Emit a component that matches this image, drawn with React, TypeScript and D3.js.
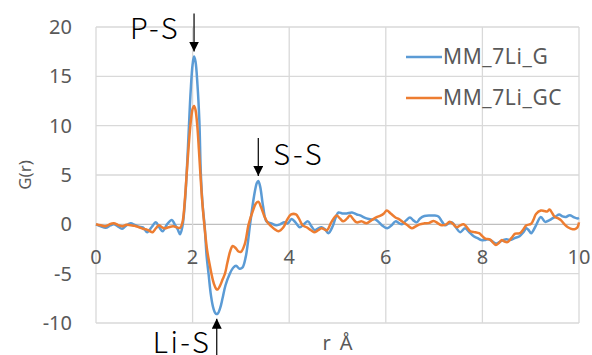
import * as d3 from "d3"

// MM_7Li_G (blue)
const rG = [0, 0.1, 0.2, 0.3, 0.37, 0.45, 0.54, 0.63, 0.72, 0.8, 0.89, 0.97, 1.06, 1.15, 1.24, 1.31, 1.38, 1.47, 1.57, 1.63, 1.69, 1.74, 1.79, 1.84, 1.88, 1.92, 1.96, 2.0, 2.03, 2.06, 2.1, 2.14, 2.17, 2.21, 2.25, 2.29, 2.33, 2.38, 2.43, 2.48, 2.52, 2.57, 2.62, 2.68, 2.77, 2.84, 2.9, 2.97, 3.03, 3.1, 3.19, 3.27, 3.33, 3.36, 3.4, 3.46, 3.53, 3.63, 3.73, 3.81, 3.9, 3.97, 4.05, 4.13, 4.22, 4.3, 4.39, 4.46, 4.53, 4.6, 4.67, 4.74, 4.81, 4.9, 4.97, 5.02, 5.1, 5.19, 5.3, 5.4, 5.47, 5.6, 5.7, 5.78, 5.86, 5.92, 6.03, 6.12, 6.2, 6.28, 6.33, 6.42, 6.5, 6.57, 6.64, 6.71, 6.8, 6.92, 7.0, 7.09, 7.16, 7.23, 7.3, 7.37, 7.45, 7.54, 7.64, 7.73, 7.82, 7.9, 7.98, 8.05, 8.12, 8.2, 8.28, 8.35, 8.43, 8.5, 8.57, 8.67, 8.77, 8.85, 8.91, 8.96, 9.01, 9.11, 9.21, 9.3, 9.38, 9.45, 9.52, 9.59, 9.66, 9.73, 9.79, 9.83, 9.9, 9.97, 10]
const gG = [0, -0.2, -0.35, -0.1, 0, -0.2, -0.45, -0.1, 0.1, -0.05, -0.25, -0.3, -0.8, -0.3, 0.2, -0.3, -0.7, 0, 0.45, 0, -0.5, -1.0, -0.2, 2.2, 5.4, 9.5, 13.5, 16.2, 17.0, 16.5, 14.2, 10.5, 5.2, 1.8, -0.2, -3.2, -5.0, -7.2, -8.5, -9.05, -9.05, -8.5, -7.5, -6.2, -5.0, -4.4, -4.2, -4.5, -4.4, -3.3, 0, 2.8, 4.2, 4.4, 3.8, 1.8, 0.3, 0.1, -0.1, 0, 0.2, 0.1, 0.55, 0.2, -0.3, 0, 0.3, -0.2, -0.6, -0.4, -0.3, -0.5, -0.9, -0.2, 0.8, 1.2, 1.1, 1.1, 1.2, 1.0, 0.9, 0.6, 0.5, 0.5, 0.2, -0.1, -0.4, -0.1, 0.3, 0.1, 0, 0.4, 0.7, 0.4, 0.2, 0.6, 0.85, 0.9, 0.9, 0.8, 0.3, -0.1, 0.1, 0.2, -0.3, -0.8, -0.4, -0.8, -1.2, -1.4, -1.6, -1.6, -1.5, -1.7, -1.95, -1.8, -1.6, -1.5, -1.6, -1.4, -1.2, -0.8, -0.4, -0.6, -0.9, -0.1, 0.75, 0.25, 0.4, 0.6, 0.8, 1.0, 0.8, 0.75, 0.9, 0.9, 0.7, 0.6, 0.65]

// MM_7Li_GC (orange)
const rGC = [0, 0.1, 0.2, 0.28, 0.37, 0.45, 0.54, 0.63, 0.72, 0.8, 0.89, 0.97, 1.03, 1.1, 1.17, 1.24, 1.3, 1.37, 1.43, 1.5, 1.6, 1.67, 1.74, 1.79, 1.84, 1.88, 1.92, 1.96, 2.0, 2.03, 2.06, 2.1, 2.13, 2.16, 2.2, 2.25, 2.3, 2.35, 2.39, 2.44, 2.49, 2.52, 2.57, 2.62, 2.67, 2.72, 2.78, 2.83, 2.89, 2.95, 3.0, 3.08, 3.16, 3.25, 3.31, 3.36, 3.42, 3.48, 3.55, 3.63, 3.7, 3.78, 3.88, 3.96, 4.04, 4.14, 4.2, 4.28, 4.36, 4.45, 4.53, 4.6, 4.67, 4.78, 4.87, 4.98, 5.05, 5.12, 5.2, 5.26, 5.33, 5.4, 5.5, 5.6, 5.7, 5.8, 5.9, 5.96, 6.02, 6.1, 6.2, 6.28, 6.36, 6.45, 6.54, 6.62, 6.7, 6.8, 6.9, 6.99, 7.08, 7.16, 7.25, 7.32, 7.4, 7.47, 7.54, 7.61, 7.68, 7.75, 7.85, 7.93, 8.0, 8.06, 8.16, 8.22, 8.28, 8.34, 8.4, 8.46, 8.52, 8.6, 8.68, 8.78, 8.85, 8.91, 9.01, 9.06, 9.11, 9.21, 9.28, 9.34, 9.39, 9.45, 9.5, 9.57, 9.63, 9.7, 9.77, 9.87, 9.93, 9.97, 10]
const gGC = [0, -0.1, -0.2, 0, 0.1, -0.05, -0.2, -0.05, -0.1, -0.15, -0.3, -0.45, -0.5, -0.65, -0.8, -0.4, -0.1, -0.3, -0.4, -0.3, -0.2, -0.3, -0.35, 0.2, 2.5, 5.3, 8.0, 10.3, 11.7, 12.0, 11.6, 9.8, 7.6, 5.2, 2.3, -0.4, -2.6, -4.0, -5.0, -6.0, -6.55, -6.6, -6.2, -5.6, -5.0, -3.9, -2.7, -2.2, -2.4, -2.75, -2.8, -2.0, 0, 1.4, 2.1, 2.3, 1.7, 0.9, 0.2, -0.2, -0.5, -0.7, -0.3, 0.5, 1.0, 1.0, 0.6, -0.1, -0.3, -0.6, -0.8, -0.6, -0.4, -0.6, 0.2, 0.9, 0.6, 0.3, 0.6, 0.9, 0.5, 0.2, 0.3, 0.1, 0.4, 0.7, 0.9, 1.1, 1.4, 1.1, 0.7, 0.5, 0.2, -0.1, -0.4, -0.2, 0, 0.1, 0.15, 0.35, 0.1, -0.1, 0, 0.25, 0, -0.3, -0.1, 0, -0.3, -0.7, -0.8, -0.9, -1.2, -1.45, -1.55, -1.85, -2.1, -1.9, -1.6, -1.75, -1.8, -1.4, -0.95, -0.9, -0.5, -0.1, 0.05, 0.5, 1.05, 1.4, 1.35, 1.3, 1.5, 1.1, 0.75, 0.6, 0.4, 0, -0.3, -0.5, -0.45, -0.3, 0.2]

const xTicks = [0, 2, 4, 6, 8, 10]
const yTicks = [20, 15, 10, 5, 0, -5, -10]
const seriesNames = ["MM_7Li_G", "MM_7Li_GC"]
const seriesColors = ["#5B9BD5", "#ED7D31"]

// annotated peaks
const peaks = [
  { label: "P-S", r: 2.03, g: 17.0, dir: "down" },
  { label: "S-S", r: 3.36, g: 4.4, dir: "down" },
  { label: "Li-S", r: 2.5, g: -9.05, dir: "up" },
]

const W = 592
const H = 355
const margin = { left: 96, right: 13, top: 27, bottom: 32 }
const font = "'Noto Sans', sans-serif"
const thinFont = "'Noto Sans CJK SC Light', 'Noto Sans CJK SC', 'Noto Sans', sans-serif"

export default function App() {
  const x = d3.scaleLinear().domain([0, 10]).range([margin.left, W - margin.right])
  const y = d3.scaleLinear().domain([-10, 20]).range([H - margin.bottom, margin.top])

  const line = d3
    .line<[number, number]>()
    .x((d) => x(d[0]))
    .y((d) => y(d[1]))
    .curve(d3.curveCatmullRom.alpha(0.5))

  const series = [
    rG.map((r, i) => [r, gG[i]] as [number, number]),
    rGC.map((r, i) => [r, gGC[i]] as [number, number]),
  ]

  return (
    <div style={{ position: "fixed", left: 0, top: 0 }}>
      <svg width={W} height={H} style={{ display: "block", background: "#fff" }}>
        {/* grid */}
        {yTicks.map((t) => (
          <line key={"h" + t} x1={x(0)} x2={x(10)} y1={y(t)} y2={y(t)} stroke={t === 0 ? "#bfbfbf" : "#d9d9d9"} strokeWidth={1.3} />
        ))}
        {xTicks.map((t) => (
          <line key={"v" + t} x1={x(t)} x2={x(t)} y1={y(20)} y2={y(-10)} stroke="#d9d9d9" strokeWidth={1.3} />
        ))}

        {/* y tick labels */}
        {yTicks.map((t) => (
          <text key={"yl" + t} x={x(0) - 24} y={y(t)} dy="0.35em" textAnchor="end" fontFamily={font} fontSize={20} fill="#595959">
            {t}
          </text>
        ))}
        {/* x tick labels, hanging under the zero line */}
        {xTicks.map((t) => (
          <text key={"xl" + t} x={x(t)} y={y(0) + 40} textAnchor="middle" fontFamily={font} fontSize={20} fill="#595959">
            {t}
          </text>
        ))}

        {/* axis titles */}
        <text transform={`translate(31,${(y(20) + y(-10)) / 2}) rotate(-90)`} textAnchor="middle" fontFamily={font} fontSize={17} fill="#595959">
          G(r)
        </text>
        <text x={(x(0) + x(10)) / 2} y={350} textAnchor="middle" fontFamily={font} fontSize={20} fill="#595959" style={{ wordSpacing: "4px" }}>
          r Å
        </text>

        {/* series */}
        {series.map((s, i) => (
          <path key={seriesNames[i]} d={line(s) ?? ""} fill="none" stroke={seriesColors[i]} strokeWidth={2.5} strokeLinejoin="round" />
        ))}

        {/* legend */}
        {seriesNames.map((n, i) => (
          <g key={"lg" + n} transform={`translate(406,${57 + i * 41})`}>
            <line x1={0} x2={36} y1={0} y2={0} stroke={seriesColors[i]} strokeWidth={2.5} />
            <text x={37} y={0} dy="0.35em" fontFamily={font} fontSize={21} fill="#595959" letterSpacing={0.6}>
              {n}
            </text>
          </g>
        ))}

        {/* peak annotations */}
        <defs>
          <marker id="arrow" viewBox="0 0 10 10" refX={10} refY={5} markerWidth={10} markerHeight={10} markerUnits="userSpaceOnUse" orient="auto">
            <path d="M0,0 L10,5 L0,10 Z" fill="#000" />
          </marker>
        </defs>
        {peaks.map((p) => {
          const px = x(p.r)
          const tipY = p.dir === "down" ? y(p.g) - 5 : y(p.g) + 5
          const tailY = p.dir === "down" ? tipY - 38 : H + 2
          const labelX = p.label === "S-S" ? px + 15 : px - 64
          const labelY = p.label === "P-S" ? 39 : p.label === "S-S" ? 165 : 353
          return (
            <g key={p.label}>
              <line x1={px} x2={px} y1={tailY} y2={tipY} stroke="#000" strokeWidth={1.2} markerEnd="url(#arrow)" />
              <text x={labelX} y={labelY} fontFamily={thinFont} fontWeight={300} fontSize={29} letterSpacing={2.5} fill="#000">
                {p.label}
              </text>
            </g>
          )
        })}
      </svg>
    </div>
  )
}
